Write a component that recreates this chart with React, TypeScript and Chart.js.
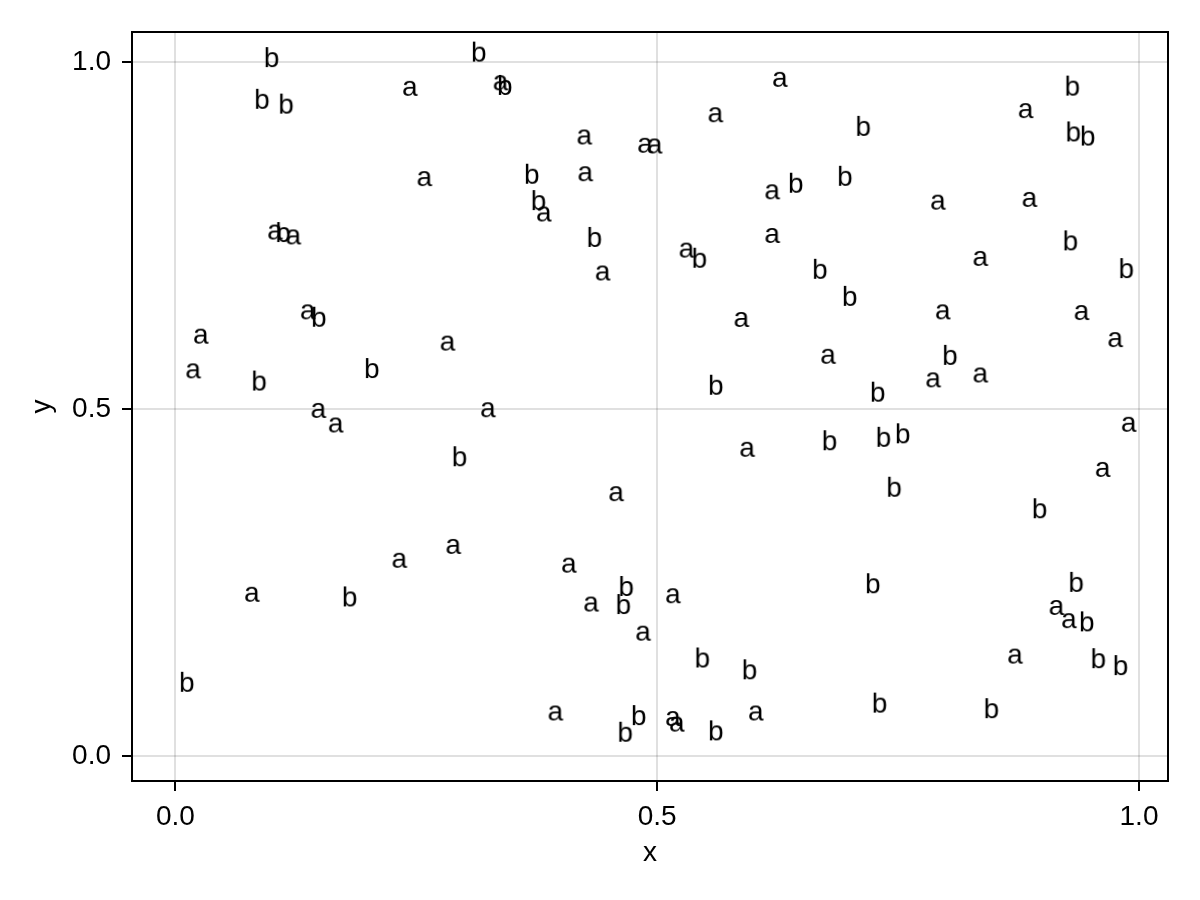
import React, { useEffect, useRef } from "react";
import { Chart, registerables } from "chart.js";

Chart.register(...registerables);

// ---- data (glyph centres in data units) ----
const aX = [0.244, 0.259, 0.104, 0.123, 0.338, 0.628, 0.561, 0.425, 0.488, 0.498,
  0.426, 0.383, 0.444, 0.531, 0.620, 0.620, 0.883, 0.792, 0.887, 0.836,
  0.027, 0.019, 0.138, 0.283, 0.149, 0.167, 0.588, 0.325, 0.594, 0.458,
  0.797, 0.941, 0.976, 0.678, 0.836, 0.787, 0.990, 0.963,
  0.289, 0.233, 0.080, 0.409, 0.432, 0.517, 0.486, 0.395, 0.517, 0.521,
  0.603, 0.915, 0.928, 0.872];
const aY = [0.962, 0.832, 0.755, 0.748, 0.970, 0.975, 0.924, 0.892, 0.880, 0.879,
  0.839, 0.781, 0.696, 0.729, 0.813, 0.750, 0.930, 0.798, 0.802, 0.717,
  0.605, 0.555, 0.640, 0.595, 0.498, 0.477, 0.629, 0.499, 0.442, 0.378,
  0.640, 0.639, 0.600, 0.576, 0.549, 0.542, 0.478, 0.413,
  0.302, 0.282, 0.233, 0.275, 0.219, 0.231, 0.177, 0.062, 0.054, 0.046,
  0.062, 0.214, 0.195, 0.144];

const bX = [0.100, 0.090, 0.115, 0.112, 0.315, 0.342, 0.370, 0.377, 0.435, 0.544,
  0.644, 0.669, 0.931, 0.932, 0.947, 0.714, 0.695, 0.929, 0.987,
  0.149, 0.087, 0.204, 0.295, 0.561, 0.700, 0.804, 0.729, 0.679, 0.735, 0.755,
  0.746, 0.897, 0.181, 0.012, 0.468, 0.465, 0.547, 0.596, 0.481, 0.467,
  0.561, 0.724, 0.935, 0.946, 0.958, 0.981, 0.731, 0.847];
const bY = [1.007, 0.947, 0.940, 0.755, 1.015, 0.967, 0.839, 0.801, 0.748, 0.718,
  0.826, 0.702, 0.966, 0.900, 0.894, 0.908, 0.836, 0.743, 0.703,
  0.633, 0.541, 0.559, 0.432, 0.535, 0.663, 0.578, 0.525, 0.455, 0.460, 0.465,
  0.388, 0.357, 0.230, 0.107, 0.245, 0.219, 0.142, 0.125, 0.059, 0.035,
  0.037, 0.249, 0.251, 0.194, 0.141, 0.131, 0.077, 0.069];

const xTicks = [0, 0.5, 1.0];
const yTicks = [0, 0.5, 1.0];
const xLabel = "x";
const yLabel = "y";

// axis limits
const X_MIN = -0.0451;
const X_MAX = 1.0301;
const Y_MIN = -0.036;
const Y_MAX = 1.0432;

const FONT = '"Liberation Sans", Arial, sans-serif';

function glyph(ch: string, size: number): HTMLCanvasElement {
  const c = document.createElement("canvas");
  let ctx = c.getContext("2d")!;
  ctx.font = `${size}px ${FONT}`;
  const m = ctx.measureText(ch);
  const l = m.actualBoundingBoxLeft;
  const r = m.actualBoundingBoxRight;
  const asc = m.actualBoundingBoxAscent;
  const desc = m.actualBoundingBoxDescent;
  const pad = 2;
  c.width = Math.round(l + r + 2 * pad);
  c.height = Math.round(asc + desc + 2 * pad);
  ctx = c.getContext("2d")!;
  ctx.font = `${size}px ${FONT}`;
  ctx.fillStyle = "#000";
  ctx.textAlign = "left";
  ctx.textBaseline = "alphabetic";
  ctx.fillText(ch, pad + l, pad + asc);
  return c;
}

const framePlugin = {
  id: "frame",
  afterDraw(chart: any) {
    const { ctx, chartArea } = chart;
    ctx.save();
    ctx.strokeStyle = "#000";
    ctx.lineWidth = 2;
    ctx.strokeRect(chartArea.left, chartArea.top, chartArea.right - chartArea.left, chartArea.bottom - chartArea.top);
    ctx.restore();
  },
};

export default function App() {
  const ref = useRef<HTMLCanvasElement | null>(null);
  useEffect(() => {
    if (!ref.current) return;
    const gA = glyph("a", 28);
    const gB = glyph("b", 28);
    const gridOpts = {
      color: "rgba(0,0,0,0.12)",
      lineWidth: 2,
      drawTicks: true,
      tickLength: 10,
      tickColor: "#000",
      tickWidth: 2,
    };
    const chart = new Chart(ref.current, {
      type: "scatter",
      data: {
        datasets: [
          {
            label: "a",
            data: aX.map((x, i) => ({ x, y: aY[i] })),
            pointStyle: gA as any,
            pointRadius: 3,
          },
          {
            label: "b",
            data: bX.map((x, i) => ({ x, y: bY[i] })),
            pointStyle: gB as any,
            pointRadius: 3,
          },
        ],
      },
      options: {
        animation: false,
        responsive: false,
        devicePixelRatio: 1,
        layout: { padding: { top: 32, right: 32, left: 0, bottom: 0 } },
        plugins: { legend: { display: false }, tooltip: { enabled: false } },
        scales: {
          x: {
            type: "linear",
            min: X_MIN,
            max: X_MAX,
            afterBuildTicks: (s: any) => {
              s.ticks = xTicks.map((v) => ({ value: v }));
            },
            afterFit: (s: any) => {
              s.height = 119;
            },
            grid: gridOpts,
            border: { display: false },
            ticks: {
              color: "#000",
              font: { family: FONT, size: 28 },
              padding: 9,
              maxRotation: 0,
              callback: (v: any) => Number(v).toFixed(1),
            },
            title: {
              display: true,
              text: xLabel,
              color: "#000",
              font: { family: FONT, size: 28 },
              padding: { top: 0, bottom: 30 },
            },
          },
          y: {
            type: "linear",
            min: Y_MIN,
            max: Y_MAX,
            afterBuildTicks: (s: any) => {
              s.ticks = yTicks.map((v) => ({ value: v }));
            },
            afterFit: (s: any) => {
              s.width = 132;
            },
            grid: gridOpts,
            border: { display: false },
            ticks: {
              color: "#000",
              font: { family: FONT, size: 28 },
              padding: 11,
              callback: (v: any) => Number(v).toFixed(1),
            },
            title: {
              display: true,
              text: yLabel,
              color: "#000",
              font: { family: FONT, size: 28 },
              padding: { top: 25, bottom: 0 },
            },
          },
        },
      },
      plugins: [framePlugin],
    });
    return () => chart.destroy();
  }, []);
  return (
    <div style={{ position: "absolute", left: 0, top: 0, width: 1200, height: 900, background: "#fff" }}>
      <canvas ref={ref} width={1200} height={900} />
    </div>
  );
}
